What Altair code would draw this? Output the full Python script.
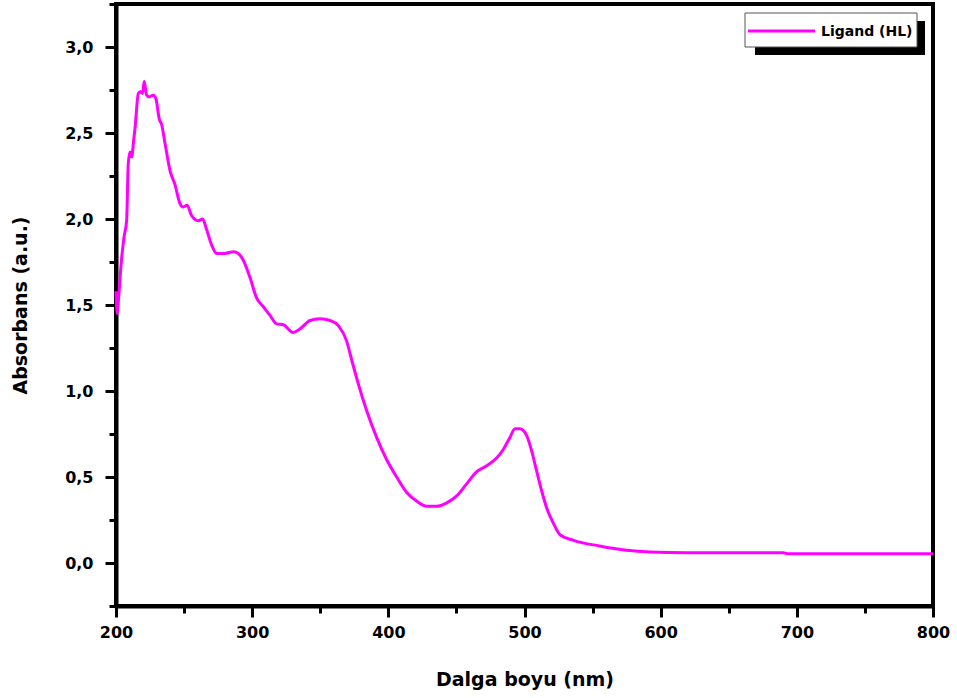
import altair as alt
import pandas as pd

wavelength = [200, 200.8, 202, 204, 206, 207.8, 209, 210.3, 211.5, 213, 214, 216.4, 217.9, 219.5,
              220.7, 222.5, 224.4, 227.3, 229.3, 231.8, 233.5, 236, 239.7, 243.3, 247, 249.4,
              252.3, 255.5, 260.4, 263.6, 266.5, 270.2, 273.9, 280, 286.2, 289.8, 293.5, 298.4,
              303.3, 308.2, 313.1, 318, 322.9, 330, 335, 342.5, 349.8, 357.2, 363.3, 369.4,
              373.1, 378, 384.1, 391.4, 398.8, 406.1, 413.5, 420.8, 428.2, 435.5, 442.9, 450.2,
              457.5, 464.8, 472.2, 479.5, 484.4, 489.3, 493, 496.7, 501.6, 505.3, 508.9, 512.6,
              516.3, 521, 526, 536, 555, 575, 592, 619, 690, 693, 800]
absorbance = [1.58, 1.45, 1.55, 1.76, 1.90, 1.99, 2.32, 2.39, 2.36, 2.46, 2.53, 2.73, 2.74, 2.73,
              2.80, 2.72, 2.71, 2.72, 2.70, 2.58, 2.55, 2.44, 2.28, 2.20, 2.09, 2.07,
              2.08, 2.02, 1.99, 2.00, 1.94, 1.85, 1.80, 1.80, 1.81, 1.80, 1.76, 1.66,
              1.54, 1.49, 1.44, 1.39, 1.385, 1.34, 1.36, 1.41, 1.42, 1.41, 1.38, 1.29,
              1.18, 1.04, 0.885, 0.73, 0.60, 0.50, 0.41, 0.36, 0.33, 0.33, 0.35, 0.39,
              0.46, 0.53, 0.565, 0.61, 0.66, 0.73, 0.78, 0.78, 0.74, 0.65, 0.535, 0.42,
              0.32, 0.235, 0.165, 0.132, 0.099, 0.074, 0.064, 0.06, 0.06, 0.054, 0.054]

x_ticks = list(range(200, 801, 50))
y_ticks = [i * 0.25 for i in range(-1, 14)]
series_name = "Ligand (HL)"

FONT = "DejaVu Sans"
MAGENTA = "#ff00ff"

df = pd.DataFrame({"wl": wavelength, "abs": absorbance})

x_major = "datum.value % 100 === 0"
y_major = "abs(datum.value * 2 - round(datum.value * 2)) < 0.001"

line = alt.Chart(df).mark_line(color=MAGENTA, strokeWidth=3, interpolate="monotone").encode(
    x=alt.X("wl:Q", scale=alt.Scale(domain=[200, 800], nice=False, zero=False),
            axis=alt.Axis(values=x_ticks, labelExpr=f"{x_major} ? format(datum.value, 'd') : ''",
                          title="Dalga boyu (nm)", titlePadding=30, labelFlush=False,
                          tickSize={"condition": {"test": x_major, "value": 11}, "value": 7},
                          labelPadding=7)),
    y=alt.Y("abs:Q", scale=alt.Scale(domain=[-0.25, 3.25], nice=False, zero=False),
            axis=alt.Axis(values=y_ticks, labelFlush=False,
                          labelExpr=f"{y_major} ? replace(format(datum.value, '.1f'), '.', ',') : ''",
                          title="Absorbans (a.u.)", titlePadding=34,
                          tickSize={"condition": {"test": y_major, "value": 11}, "value": 7},
                          labelPadding=12)),
)

leg = pd.DataFrame({"name": [series_name]})
shadow = alt.Chart(leg).mark_rect(color="black").encode(
    x=alt.value(639), x2=alt.value(809), y=alt.value(17), y2=alt.value(51))
box = alt.Chart(leg).mark_rect(fill="white", stroke="#555555", strokeWidth=1).encode(
    x=alt.value(629), x2=alt.value(801), y=alt.value(9), y2=alt.value(43))
sym = alt.Chart(leg).mark_rule(color=MAGENTA, strokeWidth=3).encode(
    x=alt.value(632), x2=alt.value(699), y=alt.value(27))
lab = alt.Chart(leg).mark_text(align="left", baseline="middle", font=FONT, fontWeight="bold",
                               fontSize=14, color="black").encode(
    x=alt.value(705), y=alt.value(28), text="name:N")

chart = alt.layer(line, shadow, box, sym, lab).properties(
    width=817, height=602,
    autosize=alt.AutoSizeParams(type="none"),
    padding={"left": 116, "top": 4, "right": 24, "bottom": 92},
).configure_view(stroke="black", strokeWidth=4).configure_axis(
    grid=False, domainColor="black", domainWidth=4, tickColor="black", tickWidth=3,
    labelFont=FONT, labelFontSize=16, labelFontWeight="bold", labelColor="black",
    titleFont=FONT, titleFontSize=19, titleFontWeight="bold", titleColor="black",
)

chart.save("out.html", embed_options={"renderer": "svg", "actions": False})
